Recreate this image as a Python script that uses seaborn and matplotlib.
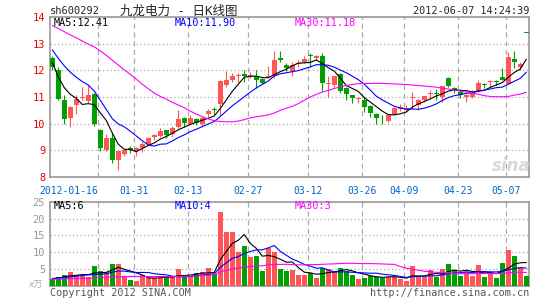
import matplotlib
matplotlib.use("Agg")
import matplotlib.pyplot as plt
import seaborn as sns
import numpy as np
import pandas as pd

# ---------------- data ----------------
open_ = [12.47, 12.02, 10.89, 10.23, 10.70, 10.95, 10.85, 11.10, 9.78, 9.00,
         9.48, 8.62, 8.87, 9.10, 8.98, 9.10, 9.22, 9.50, 9.54, 9.75,
         9.60, 9.86, 10.20, 10.00, 10.19, 9.98, 10.36, 10.54, 10.74, 11.45,
         11.62, 11.80, 11.85, 11.80, 11.80, 11.68, 11.74, 11.77, 12.45, 12.21,
         11.96, 12.23, 12.33, 12.58, 12.46, 12.52, 11.48, 11.45, 11.87, 11.33,
         11.08, 10.93, 10.89, 10.66, 10.38, 10.15, 10.10, 10.32, 10.55, 10.53,
         10.96, 10.70, 10.90, 11.12, 11.15, 10.99, 11.72, 11.32, 11.20, 11.00,
         11.00, 11.24, 11.47, 11.55, 11.58, 11.74, 11.49, 12.42, 12.13, 13.39]
high = [12.52, 12.14, 11.07, 10.65, 11.08, 11.39, 11.45, 11.14, 9.80, 9.63,
        9.70, 9.00, 9.06, 9.15, 9.13, 9.30, 9.50, 9.63, 9.85, 9.78,
        9.90, 10.50, 10.26, 10.32, 10.23, 10.28, 10.55, 10.64, 11.64, 11.96,
        11.89, 11.90, 12.00, 11.92, 12.00, 11.70, 12.17, 12.71, 12.71, 12.27,
        12.33, 12.37, 12.52, 12.65, 12.58, 12.65, 11.77, 11.77, 11.90, 11.39,
        11.08, 11.00, 11.00, 10.70, 10.41, 10.32, 10.38, 10.64, 10.72, 10.70,
        11.20, 10.93, 11.05, 11.28, 11.30, 11.42, 11.74, 11.39, 11.26, 11.13,
        11.26, 11.64, 11.52, 11.64, 11.64, 12.08, 12.67, 12.71, 12.30, 13.39]
low = [12.00, 10.88, 9.99, 9.88, 10.38, 10.88, 10.79, 9.93, 8.97, 8.97,
       8.52, 8.27, 8.77, 8.90, 8.79, 8.94, 9.20, 9.38, 9.50, 9.47,
       9.50, 9.82, 9.86, 9.94, 9.95, 9.90, 10.26, 10.36, 10.32, 11.39,
       11.55, 11.58, 11.58, 11.70, 11.33, 11.49, 11.74, 11.70, 12.33, 11.96,
       11.77, 12.14, 12.27, 12.14, 12.37, 11.24, 11.00, 11.39, 11.14, 10.89,
       10.76, 10.78, 10.45, 10.26, 9.97, 9.98, 10.07, 10.32, 10.48, 10.45,
       10.55, 10.51, 10.82, 10.92, 10.90, 10.82, 11.37, 11.15, 10.95, 10.80,
       10.97, 11.17, 11.33, 11.39, 11.45, 11.62, 11.49, 12.08, 12.00, 13.39]
close = [12.14, 10.91, 10.17, 10.61, 10.91, 11.00, 11.07, 9.97, 9.09, 9.47,
         8.65, 8.96, 9.02, 9.03, 9.10, 9.25, 9.48, 9.56, 9.73, 9.59,
         9.82, 10.17, 10.03, 10.22, 10.03, 10.22, 10.49, 10.50, 11.60, 11.64,
         11.80, 11.84, 11.80, 11.83, 11.64, 11.54, 11.77, 12.40, 12.40, 12.08,
         12.21, 12.27, 12.42, 12.52, 12.52, 11.52, 11.52, 11.77, 11.24, 11.11,
         10.95, 10.96, 10.64, 10.41, 10.22, 10.12, 10.32, 10.57, 10.64, 10.57,
         11.00, 10.90, 11.05, 11.15, 11.12, 11.40, 11.40, 11.26, 11.07, 11.07,
         11.17, 11.52, 11.44, 11.58, 11.55, 11.62, 12.50, 12.33, 12.24, 13.39]

price_ma5 = [12.30, 11.75, 11.35, 11.10, 10.95, 10.72, 10.75, 10.71, 10.41, 10.12,
             9.65, 9.23, 9.04, 9.03, 8.95, 9.07, 9.18, 9.28, 9.42, 9.52,
             9.64, 9.77, 9.87, 9.97, 10.05, 10.13, 10.20, 10.29, 10.57, 10.89,
             11.21, 11.48, 11.74, 11.78, 11.78, 11.73, 11.72, 11.84, 11.95, 12.04,
             12.17, 12.27, 12.28, 12.30, 12.39, 12.25, 12.10, 11.97, 11.71, 11.43,
             11.32, 11.21, 10.98, 10.81, 10.64, 10.47, 10.34, 10.33, 10.37, 10.44,
             10.62, 10.74, 10.83, 10.93, 11.04, 11.12, 11.22, 11.27, 11.25, 11.24,
             11.19, 11.22, 11.25, 11.36, 11.45, 11.54, 11.74, 11.92, 12.05, 12.42]
price_ma10 = [12.77, 12.45, 12.17, 11.93, 11.74, 11.58, 11.45, 11.22, 10.88, 10.53,
              10.19, 9.99, 9.88, 9.72, 9.54, 9.36, 9.20, 9.16, 9.23, 9.24,
              9.35, 9.48, 9.58, 9.70, 9.79, 9.89, 9.99, 10.08, 10.27, 10.47,
              10.67, 10.84, 11.01, 11.18, 11.34, 11.47, 11.60, 11.79, 11.87, 11.91,
              11.95, 11.99, 12.06, 12.13, 12.21, 12.21, 12.19, 12.12, 12.01, 11.91,
              11.78, 11.65, 11.48, 11.26, 11.03, 10.89, 10.77, 10.65, 10.59, 10.54,
              10.55, 10.54, 10.58, 10.65, 10.74, 10.87, 10.98, 11.05, 11.09, 11.14,
              11.16, 11.22, 11.26, 11.30, 11.35, 11.37, 11.48, 11.59, 11.70, 11.93]
price_ma30 = [13.68, 13.57, 13.45, 13.33, 13.22, 13.10, 12.98, 12.88, 12.73, 12.56,
              12.38, 12.20, 12.02, 11.85, 11.67, 11.48, 11.31, 11.15, 11.02, 10.92,
              10.80, 10.70, 10.60, 10.47, 10.36, 10.26, 10.18, 10.11, 10.08, 10.07,
              10.07, 10.10, 10.15, 10.22, 10.26, 10.29, 10.33, 10.40, 10.50, 10.58,
              10.65, 10.75, 10.88, 11.00, 11.10, 11.18, 11.25, 11.32, 11.38, 11.43,
              11.47, 11.50, 11.51, 11.51, 11.51, 11.51, 11.50, 11.49, 11.48, 11.47,
              11.45, 11.43, 11.41, 11.39, 11.37, 11.33, 11.30, 11.26, 11.22, 11.19,
              11.16, 11.10, 11.05, 11.02, 11.01, 11.01, 11.02, 11.07, 11.11, 11.18]

volume = [2.0, 2.8, 3.4, 4.3, 3.4, 3.0, 2.7, 6.0, 4.5, 4.1,
          6.6, 6.6, 3.0, 1.9, 1.6, 3.2, 2.5, 2.5, 2.5, 2.7,
          2.7, 5.0, 2.7, 3.1, 4.0, 4.3, 5.3, 3.5, 22.0, 16.1,
          16.1, 10.2, 12.0, 8.7, 8.9, 4.4, 11.3, 10.2, 4.9, 4.5,
          4.7, 3.2, 3.2, 3.9, 2.5, 5.4, 4.9, 4.3, 5.4, 4.4,
          3.4, 2.1, 2.4, 3.0, 2.8, 2.5, 2.8, 2.7, 2.2, 1.5,
          5.8, 2.7, 2.7, 4.6, 2.8, 4.9, 6.5, 4.7, 3.1, 4.2,
          3.1, 6.2, 2.8, 3.7, 2.5, 6.9, 10.6, 8.8, 5.6, 2.9]
vol_ma5 = [2.2, 2.4, 2.7, 3.0, 3.18, 3.38, 3.36, 3.88, 3.92, 4.06,
           4.78, 5.56, 4.96, 4.44, 3.94, 3.26, 2.44, 2.34, 2.46, 2.68,
           2.58, 3.08, 3.12, 3.24, 3.50, 3.82, 3.88, 4.04, 7.82, 10.24,
           12.60, 13.58, 15.28, 12.62, 11.18, 8.84, 9.06, 8.70, 7.94, 7.06,
           7.12, 5.50, 4.10, 3.90, 3.50, 3.64, 3.98, 4.20, 4.50, 4.88,
           4.48, 3.92, 3.54, 3.06, 2.74, 2.56, 2.70, 2.76, 2.60, 2.34,
           3.00, 2.98, 2.98, 3.46, 3.72, 3.54, 4.30, 4.70, 4.40, 4.68,
           4.32, 4.26, 3.88, 4.00, 3.66, 4.42, 5.30, 6.50, 6.88, 6.96]
vol_ma10 = [2.2, 2.3, 2.5, 2.7, 2.9, 3.1, 3.3, 3.4, 3.5, 3.62,
            4.08, 4.46, 4.42, 4.18, 4.00, 4.02, 4.00, 3.65, 3.45, 3.31,
            2.92, 2.76, 2.73, 2.85, 3.09, 3.20, 3.48, 3.58, 5.53, 6.87,
            8.21, 8.73, 9.66, 10.22, 10.71, 10.72, 11.32, 11.99, 10.28, 9.12,
            7.98, 7.28, 6.40, 5.92, 5.28, 5.38, 4.74, 4.15, 4.20, 4.19,
            4.06, 3.95, 3.87, 3.78, 3.81, 3.52, 3.31, 3.15, 2.83, 2.54,
            2.78, 2.84, 2.87, 3.03, 3.03, 3.27, 3.64, 3.84, 3.93, 4.20,
            3.93, 4.28, 4.29, 4.20, 4.17, 4.37, 4.78, 5.19, 5.44, 5.31]
vol_ma30 = [2.0, 2.05, 2.1, 2.15, 2.2, 2.25, 2.3, 2.4, 2.5, 2.6,
            2.65, 2.7, 2.75, 2.8, 2.8, 2.8, 2.8, 2.8, 2.8, 2.8,
            2.8, 2.85, 2.9, 2.9, 3.0, 3.1, 3.2, 3.4, 4.2, 4.6,
            5.07, 5.32, 5.60, 5.75, 5.93, 5.98, 6.27, 6.41, 6.42, 6.43,
            6.37, 6.26, 6.26, 6.33, 6.36, 6.43, 6.51, 6.57, 6.67, 6.73,
            6.75, 6.65, 6.64, 6.64, 6.60, 6.54, 6.46, 6.43, 5.77, 5.28,
            4.94, 4.69, 4.38, 4.24, 4.04, 4.06, 3.90, 3.71, 3.65, 3.64,
            3.59, 3.69, 3.68, 3.67, 3.67, 3.72, 3.91, 4.06, 4.07, 4.02]

date_labels = ["2012-01-16", "01-31", "02-13", "02-27", "03-12",
               "03-26", "04-09", "04-23", "05-07"]
date_index = [8, 14, 23, 33, 43, 52, 59, 68, 76]
price_ticks = [8, 9, 10, 11, 12, 13, 14]
vol_ticks = [5, 10, 15, 20, 25]

# ---------------- styling ----------------
sns.set_style("white")
plt.rcParams["font.family"] = ["DejaVu Sans Mono", "Noto Sans CJK SC"]

W, H = 545, 300
fig = plt.figure(figsize=(W / 100, H / 100), dpi=100)


def fx(x):
    return x / W


def fy(y):
    return 1 - y / H


ax = fig.add_axes([fx(50), fy(177), 479 / W, 160 / H])
axv = fig.add_axes([fx(50), fy(286), 479 / W, 84.3 / H])

RED = "#ff5555"
GREEN = "#00a000"
GRID = "#aaaaaa"
SPINE = "#999999"

df = pd.DataFrame({
    "i": np.arange(len(close)),
    "open": open_, "high": high, "low": low, "close": close,
    "ma5": price_ma5, "ma10": price_ma10, "ma30": price_ma30,
    "vol": volume, "vma5": vol_ma5, "vma10": vol_ma10, "vma30": vol_ma30,
})
colors = [RED if c > o else GREEN for o, c in zip(df["open"], df["close"])]

# candles
ax.vlines(df["i"], df["low"], df["high"], colors=colors, lw=0.8, zorder=3)
body_bottom = np.minimum(df["open"], df["close"])
body_h = np.maximum(np.abs(df["close"] - df["open"]), 0.035)
ax.bar(df["i"], body_h, bottom=body_bottom, width=0.78, color=colors,
       lw=0, zorder=3)

for col, c in [("ma5", "black"), ("ma10", "#0000ff"), ("ma30", "#ff00ff")]:
    sns.lineplot(data=df, x="i", y=col, ax=ax, color=c, lw=0.8,
                 legend=False, zorder=4)

# volume
axv.bar(df["i"], df["vol"], width=0.78, color=colors, lw=0, zorder=3)
for col, c in [("vma5", "black"), ("vma10", "#0000ff"), ("vma30", "#ff00ff")]:
    sns.lineplot(data=df, x="i", y=col, ax=axv, color=c, lw=0.8,
                 legend=False, zorder=4)

tick_pos = [d - 0.4 for d in date_index]
for a in (ax, axv):
    a.set_xlim(-0.38, 79.45)
    a.set_xlabel("")
    a.set_ylabel("")
    a.set_xticks(tick_pos)
    a.xaxis.grid(True, linestyle=(0, (4, 3)), color=GRID, lw=0.9)
    a.yaxis.grid(True, linestyle=(0, (1, 2)), color=GRID, lw=0.9)
    a.set_axisbelow(True)
    for s in a.spines.values():
        s.set_color(SPINE)
        s.set_linewidth(1.2)
    a.tick_params(length=0)

ax.set_ylim(8, 14)
ax.set_yticks(price_ticks)
ax.set_yticklabels([str(t) for t in price_ticks], color="#ee0000", fontsize=7.5)
ax.tick_params(axis="y", pad=3.5)
ax.set_xticklabels(date_labels, color="#0066cc", fontsize=7)
ax.tick_params(axis="x", pad=6.5)
# first (long) date label: right-align it so it ends where "01-31" begins
first_lbl = ax.get_xticklabels()[0]
first_lbl.set_horizontalalignment("right")
first_lbl.set_x(tick_pos[1] - 3.2)

axv.set_ylim(0, 25)
axv.set_yticks(vol_ticks)
axv.set_yticklabels([str(t) for t in vol_ticks], color="#999999", fontsize=7.5)
axv.tick_params(axis="y", pad=3.5)
axv.set_xticklabels([])

# texts
fig.text(fx(50), fy(11), "sh600292", fontsize=7.5, va="center", ha="left")
fig.text(fx(120), fy(11), "九龙电力 - 日K线图", fontsize=9, va="center",
         ha="left")
fig.text(fx(529), fy(11), "2012-06-07 14:24:39", fontsize=7.3, va="center",
         ha="right")

fig.text(fx(54), fy(23.5), "MA5:12.41", fontsize=7.3, va="center", color="black")
fig.text(fx(175), fy(23.5), "MA10:11.90", fontsize=7.3, va="center", color="#0000ff")
fig.text(fx(295), fy(23.5), "MA30:11.18", fontsize=7.3, va="center", color="#ff00ff")

fig.text(fx(54), fy(206), "MA5:6", fontsize=7.3, va="center", color="black")
fig.text(fx(175), fy(206), "MA10:4", fontsize=7.3, va="center", color="#0000ff")
fig.text(fx(295), fy(206), "MA30:3", fontsize=7.3, va="center", color="#ff00ff")

fig.text(fx(43), fy(285), "x万", fontsize=6.5, va="center", ha="right",
         color="#aaaaaa", style="italic")
fig.text(fx(50), fy(292.5), "Copyright 2012 SINA.COM", fontsize=7.3,
         va="center", ha="left", color="#555555")
fig.text(fx(529), fy(292.5), "http://finance.sina.com.cn", fontsize=7.3,
         va="center", ha="right", color="#555555")

fig.text(fx(511), fy(166), "sina", fontsize=12, va="center", ha="center",
         color="#d9d9d9", style="italic", weight="bold", family="DejaVu Sans")

fig.savefig("out.png", dpi=100)
